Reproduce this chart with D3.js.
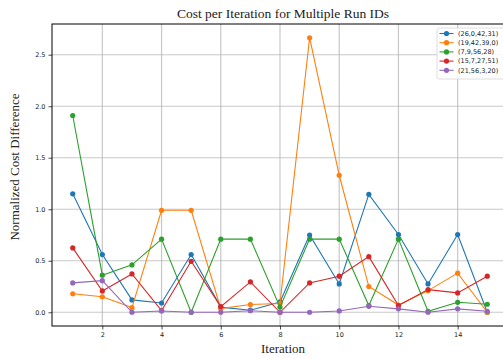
<!DOCTYPE html>
<html>
<head>
<meta charset="utf-8">
<script src="https://cdn.jsdelivr.net/npm/d3@7"></script>
<style>
  body { margin: 0; background: #fff; }
  svg { display: block; }
</style>
</head>
<body>
<div id="container"></div>
<script>
// chart data
const iterations = [1, 2, 3, 4, 5, 6, 7, 8, 9, 10, 11, 12, 13, 14, 15];
const runIds = ["(26,0,42,31)", "(19,42,39,0)", "(7,9,56,28)", "(15,7,27,51)", "(21,56,3,20)"];
const run1 = [1.15, 0.56, 0.12, 0.09, 0.56, 0.05, 0.02, 0.10, 0.75, 0.275, 1.145, 0.755, 0.275, 0.755, 0.0];
const run2 = [0.18, 0.15, 0.045, 0.99, 0.99, 0.035, 0.075, 0.085, 2.665, 1.33, 0.25, 0.07, 0.21, 0.38, 0.0];
const run3 = [1.91, 0.36, 0.46, 0.71, 0.0, 0.71, 0.71, 0.05, 0.71, 0.71, 0.065, 0.71, 0.01, 0.097, 0.078];
const run4 = [0.625, 0.207, 0.372, 0.016, 0.495, 0.055, 0.295, 0.0, 0.285, 0.35, 0.54, 0.065, 0.22, 0.188, 0.35];
const run5 = [0.285, 0.307, 0.0, 0.013, 0.0, 0.0, 0.015, 0.0, 0.0, 0.013, 0.058, 0.033, 0.0, 0.033, 0.01];
const xTicks = [2, 4, 6, 8, 10, 12, 14];
const yTicks = [0, 0.5, 1.0, 1.5, 2.0, 2.5];

const series = [run1, run2, run3, run4, run5];
const colors = ["#1f77b4", "#ff7f0e", "#2ca02c", "#d62728", "#9467bd"];

const w = 503, h = 358;
const pLeft = 52, pTop = 24, pRight = 508, pBottom = 326;

const svg = d3.select("#container").append("svg").attr("width", w).attr("height", h);

const allVals = series.flat();
const yMin = d3.min(allVals), yMax = d3.max(allVals);
const yPad = (yMax - yMin) * 0.05;
const xPad = (d3.max(iterations) - d3.min(iterations)) * 0.05;

const xScale = d3.scaleLinear().domain([d3.min(iterations) - xPad, d3.max(iterations) + xPad]).range([pLeft, pRight]);
const yScale = d3.scaleLinear().domain([yMin - yPad, yMax + yPad]).range([pBottom, pTop]);

// grid
svg.append("g").selectAll("line").data(yTicks).enter().append("line")
  .attr("x1", pLeft).attr("x2", pRight)
  .attr("y1", d => yScale(d)).attr("y2", d => yScale(d))
  .attr("stroke", "#b0b0b0").attr("stroke-opacity", 0.7).attr("stroke-width", 1.2);
svg.append("g").selectAll("line").data(xTicks).enter().append("line")
  .attr("x1", d => xScale(d)).attr("x2", d => xScale(d))
  .attr("y1", pTop).attr("y2", pBottom)
  .attr("stroke", "#b0b0b0").attr("stroke-opacity", 0.7).attr("stroke-width", 1.2);

// lines + markers
const line = d3.line().x((d, i) => xScale(iterations[i])).y(d => yScale(d));
series.forEach((s, k) => {
  svg.append("path").datum(s).attr("d", line)
    .attr("fill", "none").attr("stroke", colors[k]).attr("stroke-width", 1.1);
  svg.append("g").selectAll("circle").data(s).enter().append("circle")
    .attr("cx", (d, i) => xScale(iterations[i])).attr("cy", d => yScale(d))
    .attr("r", 2.6).attr("fill", colors[k]);
});

// axes
const xAxis = d3.axisBottom(xScale).tickValues(xTicks).tickSize(3.5).tickPadding(3).tickFormat(d3.format("d"));
const yAxis = d3.axisLeft(yScale).tickValues(yTicks).tickSize(3.5).tickPadding(3).tickFormat(d3.format(".1f"));
const gx = svg.append("g").attr("transform", `translate(0, ${pBottom})`).call(xAxis);
const gy = svg.append("g").attr("transform", `translate(${pLeft}, 0)`).call(yAxis);
[gx, gy].forEach(g => {
  g.select(".domain").remove();
  g.selectAll("text").attr("font-family", "DejaVu Sans").attr("font-size", 6.5).attr("fill", "#222");
  g.selectAll("line").attr("stroke", "#222").attr("stroke-width", 0.8);
});

// frame
svg.append("rect").attr("x", pLeft).attr("y", pTop).attr("width", pRight - pLeft).attr("height", pBottom - pTop)
  .attr("fill", "none").attr("stroke", "#000").attr("stroke-width", 1);

// titles
svg.append("text").attr("x", 283).attr("y", 18).attr("text-anchor", "middle")
  .attr("font-family", "Liberation Serif").attr("font-size", 13.5).attr("fill", "#222")
  .text("Cost per Iteration for Multiple Run IDs");
svg.append("text").attr("x", 283).attr("y", 353).attr("text-anchor", "middle")
  .attr("font-family", "Liberation Serif").attr("font-size", 13).attr("fill", "#222")
  .text("Iteration");
svg.append("text").attr("transform", "translate(19, 167) rotate(-90)").attr("text-anchor", "middle")
  .attr("font-family", "Liberation Serif").attr("font-size", 13).attr("fill", "#222")
  .text("Normalized Cost Difference");

// legend
const lg = svg.append("g").attr("transform", "translate(437, 28)");
lg.append("rect").attr("x", 0).attr("y", 0).attr("width", 80).attr("height", 51).attr("rx", 2)
  .attr("fill", "#fff").attr("fill-opacity", 0.85).attr("stroke", "#d6d6d6").attr("stroke-width", 0.8);
runIds.forEach((name, k) => {
  const yy = 5.5 + k * 9.2;
  lg.append("line").attr("x1", 2.5).attr("x2", 16.5).attr("y1", yy).attr("y2", yy)
    .attr("stroke", colors[k]).attr("stroke-width", 1.1);
  lg.append("circle").attr("cx", 9.5).attr("cy", yy).attr("r", 2.6).attr("fill", colors[k]);
  lg.append("text").attr("x", 21).attr("y", yy + 2.3)
    .attr("font-family", "DejaVu Sans").attr("font-size", 6.5).attr("fill", "#222").text(name);
});
</script>
</body>
</html>
